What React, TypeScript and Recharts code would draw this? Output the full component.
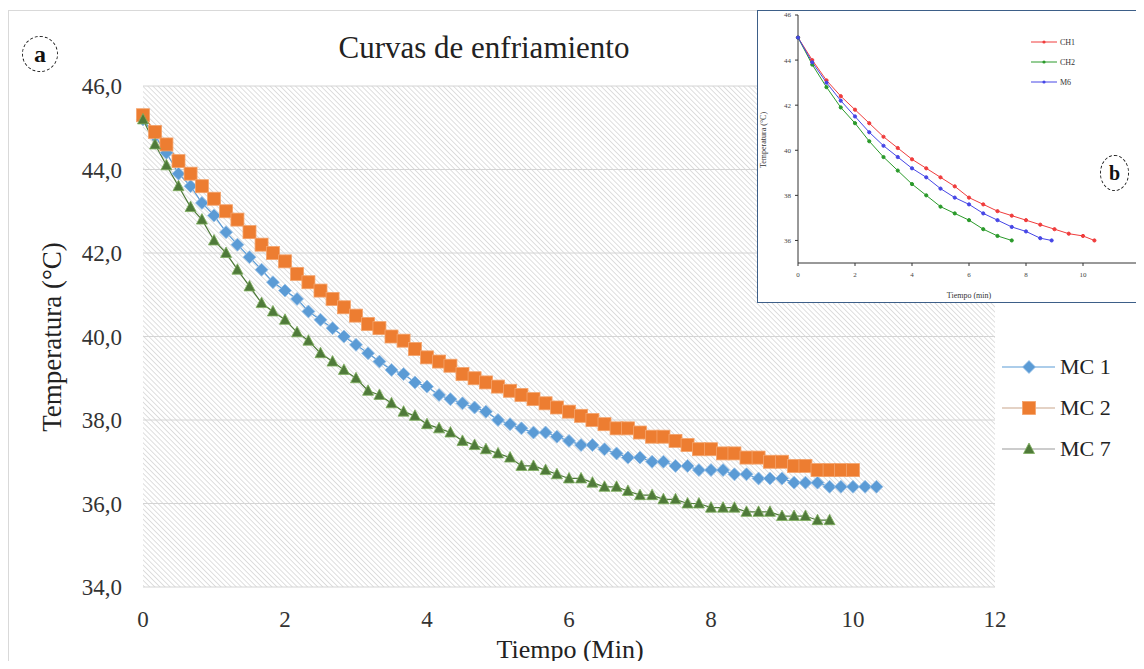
import React from 'react';
import { LineChart, Line, XAxis, YAxis, CartesianGrid } from 'recharts';

// sample times (min), one reading every 10 s
const TIME = [
  0, 0.17, 0.33, 0.5, 0.67, 0.83,
  1, 1.17, 1.33, 1.5, 1.67, 1.83,
  2, 2.17, 2.33, 2.5, 2.67, 2.83,
  3, 3.17, 3.33, 3.5, 3.67, 3.83,
  4, 4.17, 4.33, 4.5, 4.67, 4.83,
  5, 5.17, 5.33, 5.5, 5.67, 5.83,
  6, 6.17, 6.33, 6.5, 6.67, 6.83,
  7, 7.17, 7.33, 7.5, 7.67, 7.83,
  8, 8.17, 8.33, 8.5, 8.67, 8.83,
  9, 9.17, 9.33, 9.5, 9.67, 9.83,
  10, 10.17, 10.33,
];

const MC1_TEMP = [
  45.2, 44.8, 44.4, 43.9, 43.6, 43.2,
  42.9, 42.5, 42.2, 41.9, 41.6, 41.3,
  41.1, 40.9, 40.6, 40.4, 40.2, 40.0,
  39.8, 39.6, 39.4, 39.2, 39.1, 38.9,
  38.8, 38.6, 38.5, 38.4, 38.3, 38.2,
  38.0, 37.9, 37.8, 37.7, 37.7, 37.6,
  37.5, 37.4, 37.4, 37.3, 37.2, 37.1,
  37.1, 37.0, 37.0, 36.9, 36.9, 36.8,
  36.8, 36.8, 36.7, 36.7, 36.6, 36.6,
  36.6, 36.5, 36.5, 36.5, 36.4, 36.4,
  36.4, 36.4, 36.4,
];

const MC2_TEMP = [
  45.3, 44.9, 44.6, 44.2, 43.9, 43.6,
  43.3, 43.0, 42.8, 42.5, 42.2, 42.0,
  41.8, 41.5, 41.3, 41.1, 40.9, 40.7,
  40.5, 40.3, 40.2, 40.0, 39.9, 39.7,
  39.5, 39.4, 39.3, 39.1, 39.0, 38.9,
  38.8, 38.7, 38.6, 38.5, 38.4, 38.3,
  38.2, 38.1, 38.0, 37.9, 37.8, 37.8,
  37.7, 37.6, 37.6, 37.5, 37.4, 37.3,
  37.3, 37.2, 37.2, 37.1, 37.1, 37.0,
  37.0, 36.9, 36.9, 36.8, 36.8, 36.8,
  36.8,
];

const MC7_TEMP = [
  45.2, 44.6, 44.1, 43.6, 43.1, 42.8,
  42.3, 42.0, 41.6, 41.2, 40.8, 40.6,
  40.4, 40.1, 39.9, 39.6, 39.4, 39.2,
  39.0, 38.7, 38.6, 38.4, 38.2, 38.1,
  37.9, 37.8, 37.7, 37.5, 37.4, 37.3,
  37.2, 37.1, 36.9, 36.9, 36.8, 36.7,
  36.6, 36.6, 36.5, 36.4, 36.4, 36.3,
  36.2, 36.2, 36.1, 36.1, 36.0, 36.0,
  35.9, 35.9, 35.9, 35.8, 35.8, 35.8,
  35.7, 35.7, 35.7, 35.6, 35.6,
];

const X_TICKS = [0, 2, 4, 6, 8, 10, 12];
const Y_TICKS = [34, 36, 38, 40, 42, 44, 46];

// inset (b)
const CH1_TIME = [0, 0.5, 1, 1.5, 2, 2.5, 3, 3.5, 4, 4.5, 5, 5.5, 6, 6.5, 7, 7.5, 8, 8.5, 9, 9.5, 10, 10.4];
const CH1_TEMP = [45.0, 44.0, 43.1, 42.4, 41.8, 41.2, 40.6, 40.1, 39.6, 39.2, 38.8, 38.4, 37.9, 37.6, 37.3, 37.1, 36.9, 36.7, 36.5, 36.3, 36.2, 36.0];
const CH2_TIME = [0, 0.5, 1, 1.5, 2, 2.5, 3, 3.5, 4, 4.5, 5, 5.5, 6, 6.5, 7, 7.5];
const CH2_TEMP = [45.0, 43.8, 42.8, 41.9, 41.2, 40.4, 39.7, 39.1, 38.5, 38.0, 37.5, 37.2, 36.9, 36.5, 36.2, 36.0];
const M6_TIME = [0, 0.5, 1, 1.5, 2, 2.5, 3, 3.5, 4, 4.5, 5, 5.5, 6, 6.5, 7, 7.5, 8, 8.5, 8.9];
const M6_TEMP = [45.0, 43.9, 43.0, 42.2, 41.5, 40.8, 40.2, 39.7, 39.2, 38.8, 38.3, 37.9, 37.6, 37.2, 36.9, 36.6, 36.4, 36.1, 36.0];

const INSET_X_TICKS = [0, 2, 4, 6, 8, 10, 12];
const INSET_Y_TICKS = [36, 38, 40, 42, 44, 46];

const SERIF = '"Liberation Serif", "Times New Roman", serif';

const toPoints = (times: number[], temps: number[]) => temps.map((temp, i) => ({ t: times[i], temp }));

const mc1Data = toPoints(TIME, MC1_TEMP);
const mc2Data = toPoints(TIME, MC2_TEMP);
const mc7Data = toPoints(TIME, MC7_TEMP);
const ch1Data = toPoints(CH1_TIME, CH1_TEMP);
const ch2Data = toPoints(CH2_TIME, CH2_TEMP);
const m6Data = toPoints(M6_TIME, M6_TEMP);

const comma = (v: number) => v.toFixed(1).replace('.', ',');

// marker shapes
const Marker = ({ shape, cx, cy, fill, stroke }: any) => {
  if (shape === 'diamond') {
    const r = 6.5;
    return <polygon points={`${cx},${cy - r} ${cx + r},${cy} ${cx},${cy + r} ${cx - r},${cy}`} fill={fill} stroke={stroke} strokeWidth={0.8} />;
  }
  if (shape === 'square') {
    const h = 6.5;
    return <rect x={cx - h} y={cy - h} width={h * 2} height={h * 2} fill={fill} stroke={stroke} strokeWidth={0.8} />;
  }
  // triangle
  return <polygon points={`${cx},${cy - 6} ${cx + 5.5},${cy + 4.5} ${cx - 5.5},${cy + 4.5}`} fill={fill} stroke={stroke} strokeWidth={0.8} />;
};

const makeDot = (shape: string, fill: string, stroke: string) => (props: any) => {
  const { cx, cy, index } = props;
  if (cx == null || cy == null) return <g key={index} />;
  return <Marker key={index} shape={shape} cx={cx} cy={cy} fill={fill} stroke={stroke} />;
};

const SERIES = [
  { name: 'MC 1', data: mc1Data, color: '#5b9bd5', edge: '#9cc3e8', line: '#5b9bd5', shape: 'diamond' },
  { name: 'MC 2', data: mc2Data, color: '#ed7d31', edge: '#f4a36b', line: '#c9a58c', shape: 'square' },
  { name: 'MC 7', data: mc7Data, color: '#4f7a3a', edge: '#7fae5e', line: '#9a9a9a', shape: 'triangle' },
];

const INSET_SERIES = [
  { name: 'CH1', data: ch1Data, color: '#f03c3c' },
  { name: 'CH2', data: ch2Data, color: '#2a9a2a' },
  { name: 'M6', data: m6Data, color: '#4646e6' },
];

const MainLegend = () => (
  <div style={{ position: 'absolute', left: 1002, top: 346, fontFamily: SERIF, fontSize: 22, color: '#222' }}>
    {SERIES.map(s => (
      <div key={s.name} style={{ display: 'flex', alignItems: 'center', height: 41 }}>
        <svg width={58} height={20}>
          <line x1={0} x2={53} y1={10} y2={10} stroke={s.line} strokeWidth={1.2} />
          <Marker shape={s.shape} cx={27} cy={10} fill={s.color} stroke={s.edge} />
        </svg>
        <span>{s.name}</span>
      </div>
    ))}
  </div>
);

const Inset = () => (
  <div style={{ position: 'absolute', left: 757, top: 10, width: 385, height: 291, border: '1px solid #3d5f88', background: '#fff' }}>
    <LineChart width={385} height={291} margin={{ top: 4, right: 3, left: 12, bottom: 17 }}>
      <XAxis
        dataKey="t"
        type="number"
        domain={[0, 12]}
        ticks={INSET_X_TICKS}
        height={22}
        stroke="#333"
        tickSize={3}
        tickMargin={6}
        tick={{ fontFamily: SERIF, fontSize: 7, fill: '#444' }}
        allowDuplicatedCategory={false}
      />
      <YAxis
        type="number"
        domain={[35, 46]}
        ticks={INSET_Y_TICKS}
        width={28}
        stroke="#333"
        tickSize={3}
        tickMargin={4}
        tick={{ fontFamily: SERIF, fontSize: 7, fill: '#444' }}
      />
      {INSET_SERIES.map(s => (
        <Line
          key={s.name}
          data={s.data}
          dataKey="temp"
          name={s.name}
          stroke={s.color}
          strokeWidth={1}
          dot={{ r: 1.6, fill: s.color, stroke: s.color }}
          activeDot={false}
          isAnimationActive={false}
        />
      ))}
    </LineChart>
    <div style={{ position: 'absolute', left: 5, top: 129, transform: 'translate(-50%,-50%) rotate(-90deg)', fontFamily: SERIF, fontSize: 8, whiteSpace: 'nowrap', color: '#333' }}>
      Temperatura (°C)
    </div>
    <div style={{ position: 'absolute', left: 211, top: 284, transform: 'translate(-50%,-50%)', fontFamily: SERIF, fontSize: 8, whiteSpace: 'nowrap', color: '#333' }}>
      Tiempo (min)
    </div>
    <div style={{ position: 'absolute', left: 272, top: 21, fontFamily: SERIF, fontSize: 8, color: '#333' }}>
      {INSET_SERIES.map(s => (
        <div key={s.name} style={{ display: 'flex', alignItems: 'center', height: 20 }}>
          <svg width={30} height={8}>
            <line x1={1} x2={27} y1={4} y2={4} stroke={s.color} strokeWidth={1} />
            <circle cx={14} cy={4} r={1.6} fill={s.color} />
          </svg>
          <span>{s.name}</span>
        </div>
      ))}
    </div>
    <div style={{ position: 'absolute', left: 342, top: 144, width: 27, height: 34, borderRadius: '50%', border: '1px dashed #222', display: 'flex', alignItems: 'center', justifyContent: 'center', fontFamily: SERIF, fontWeight: 'bold', fontSize: 20, color: '#111' }}>
      b
    </div>
  </div>
);

const App: React.FC = () => (
  <div style={{ position: 'relative', width: 1144, height: 669, margin: '-8px 0 -8px -8px', overflow: 'hidden', background: '#fff' }}>
    <div style={{ position: 'absolute', left: 8, top: 10, width: 1132, height: 680, border: '1px solid #d9d9d9' }} />
    <div style={{ position: 'absolute', left: 0, top: 0 }}>
      <LineChart width={1144} height={669} margin={{ top: 86, right: 149, left: 73, bottom: 42 }}>
        <defs>
          <pattern id="hatch" patternUnits="userSpaceOnUse" width={3.6} height={3.6} patternTransform="rotate(-45)">
            <rect width={3.6} height={3.6} fill="#ffffff" />
            <line x1={0} y1={0} x2={0} y2={3.6} stroke="#c4c4c4" strokeWidth={1.1} />
          </pattern>
        </defs>
        <CartesianGrid vertical={false} stroke="#d4d4d4" fill="url(#hatch)" />
        <XAxis
          dataKey="t"
          type="number"
          domain={[0, 12]}
          ticks={X_TICKS}
          height={40}
          axisLine={false}
          tickLine={false}
          tickSize={0}
          tickMargin={24}
          tick={{ fontFamily: SERIF, fontSize: 23, fill: '#333' }}
          allowDuplicatedCategory={false}
        />
        <YAxis
          type="number"
          domain={[34, 46]}
          ticks={Y_TICKS}
          width={70}
          axisLine={false}
          tickLine={false}
          tickSize={0}
          tickMargin={21}
          tickFormatter={comma}
          tick={{ fontFamily: SERIF, fontSize: 23, fill: '#333' }}
        />
        {SERIES.map(s => (
          <Line
            key={s.name}
            data={s.data}
            dataKey="temp"
            name={s.name}
            stroke={s.color}
            strokeWidth={1.2}
            dot={makeDot(s.shape, s.color, s.edge)}
            activeDot={false}
            isAnimationActive={false}
          />
        ))}
      </LineChart>
    </div>
    <MainLegend />
    <div style={{ position: 'absolute', left: 484, top: 47, transform: 'translate(-50%,-50%)', fontFamily: SERIF, fontSize: 31, lineHeight: '31px', whiteSpace: 'nowrap', color: '#222' }}>
      Curvas de enfriamiento
    </div>
    <div style={{ position: 'absolute', left: 52, top: 337, transform: 'translate(-50%,-50%) rotate(-90deg)', fontFamily: SERIF, fontSize: 27, lineHeight: '27px', whiteSpace: 'nowrap', color: '#222' }}>
      Temperatura (°C)
    </div>
    <div style={{ position: 'absolute', left: 570, top: 650, transform: 'translate(-50%,-50%)', fontFamily: SERIF, fontSize: 26, lineHeight: '26px', whiteSpace: 'nowrap', color: '#222' }}>
      Tiempo (Min)
    </div>
    <div style={{ position: 'absolute', left: 22, top: 36, width: 34, height: 34, borderRadius: '50%', border: '1px dashed #222', display: 'flex', alignItems: 'center', justifyContent: 'center', fontFamily: SERIF, fontWeight: 'bold', fontSize: 24, color: '#111' }}>
      a
    </div>
    <Inset />
  </div>
);

export default App;
